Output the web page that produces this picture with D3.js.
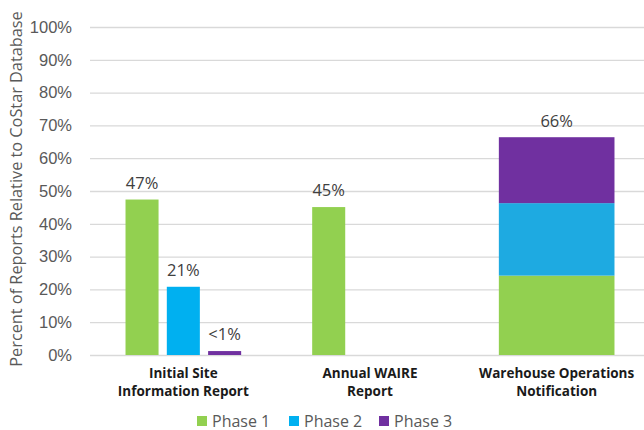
<!DOCTYPE html>
<html>
<head>
<meta charset="utf-8">
<script src="https://cdn.jsdelivr.net/npm/d3@7"></script>
<style>
  body { margin: 0; background: #fff; }
  svg { font-family: "Open Sans", sans-serif; }
  .tick text { fill: #595959; font-size: 16.5px; }
  .grid line { stroke: #d9d9d9; stroke-width: 1.3; }
  .cat { font-weight: bold; font-size: 13.5px; fill: #1a1a1a; }
  .val { font-size: 16.5px; fill: #404040; }
  .legend text { font-size: 16px; fill: #595959; }
</style>
</head>
<body>
<svg class="chart"></svg>
<script>
// data
var categories = [["Initial Site", "Information Report"], ["Annual WAIRE", "Report"], ["Warehouse Operations", "Notification"]];
var stacked = [false, false, true];
var phases = ["Phase 1", "Phase 2", "Phase 3"];
var phase1 = [47.4, 45.1, 24.2];
var phase2 = [20.8, 0, 22.1];
var phase3 = [1.2, 0, 20.1];
var barLabels = [["47%", "21%", "<1%"], ["45%", "", ""], ["66%"]];
var colors = ["#92d050", "#00b0f0", "#7030a0"];
var stackColors = ["#92d050", "#1eaae1", "#7030a0"];
var yTicks = [0, 10, 20, 30, 40, 50, 60, 70, 80, 90, 100];

var width = 644, height = 430;
var margin = {top: 27, right: -6, bottom: 75, left: 90};
var graph_width = width - margin.left - margin.right,
    graph_height = height - margin.top - margin.bottom;

var svg = d3.select(".chart")
    .attr("width", width)
    .attr("height", height);

var chart = svg.append("g")
    .attr("transform", "translate(" + margin.left + "," + margin.top + ")");

var x = d3.scaleBand()
    .domain(d3.range(categories.length))
    .range([0, graph_width]);

var x1 = d3.scaleBand()
    .domain(d3.range(phases.length))
    .range([0, x.bandwidth()])
    .paddingInner(0.2)
    .paddingOuter(0.86);

var y = d3.scaleLinear()
    .domain([0, 100])
    .range([graph_height, 0]);

// gridlines + tick labels
var yAxis = d3.axisLeft(y)
    .tickValues(yTicks)
    .tickSize(-graph_width - 10)
    .tickPadding(8)
    .tickFormat(function(d) { return d + "%"; });

chart.append("g")
    .attr("class", "grid")
    .call(yAxis)
    .call(function(g) { g.select(".domain").remove(); })
    .selectAll(".tick line").attr("x1", 0);

chart.selectAll(".grid .tick text").attr("x", -18);

var values = [phase1, phase2, phase3];

categories.forEach(function(cat, i) {
  var g = chart.append("g")
      .attr("transform", "translate(" + x(i) + ",0)");
  if (!stacked[i]) {
    phases.forEach(function(p, j) {
      var v = values[j][i];
      if (v <= 0) return;
      g.append("rect")
          .attr("x", x1(j))
          .attr("y", y(v))
          .attr("width", x1.bandwidth())
          .attr("height", graph_height - y(v))
          .attr("fill", colors[j]);
      g.append("text")
          .attr("class", "val")
          .attr("x", x1(j) + x1.bandwidth() / 2)
          .attr("y", y(v) - 11)
          .attr("text-anchor", "middle")
          .text(barLabels[i][j]);
    });
  } else {
    var x0 = x1(0), w = x1(2) + x1.bandwidth() - x1(0);
    var base = 0;
    phases.forEach(function(p, j) {
      var v = values[j][i];
      g.append("rect")
          .attr("x", x0)
          .attr("y", y(base + v))
          .attr("width", w)
          .attr("height", y(base) - y(base + v))
          .attr("fill", stackColors[j]);
      base += v;
    });
    g.append("text")
        .attr("class", "val")
        .attr("x", x0 + w / 2)
        .attr("y", y(base) - 10)
        .attr("text-anchor", "middle")
        .text(barLabels[i][0]);
  }
  var t = g.append("text")
      .attr("class", "cat")
      .attr("text-anchor", "middle")
      .attr("x", x.bandwidth() / 2)
      .attr("y", graph_height + 23);
  cat.forEach(function(line, k) {
    t.append("tspan")
        .attr("x", x.bandwidth() / 2)
        .attr("dy", k == 0 ? 0 : 18)
        .text(line);
  });
});

// y axis title
svg.append("text")
    .attr("transform", "translate(22," + (margin.top + graph_height / 2 - 2) + ") rotate(-90)")
    .attr("text-anchor", "middle")
    .attr("font-size", "16.3px")
    .attr("fill", "#595959")
    .text("Percent of Reports Relative to CoStar Database");

// legend
var legendX = [197, 289, 379];
var legend = svg.append("g").attr("class", "legend")
    .selectAll("g")
    .data(phases)
  .enter().append("g")
    .attr("transform", function(d, i) { return "translate(" + legendX[i] + ",416)"; });

legend.append("rect")
    .attr("width", 10)
    .attr("height", 10)
    .attr("fill", function(d, i) { return colors[i]; });

legend.append("text")
    .attr("x", 15)
    .attr("y", 10.5)
    .text(function(d) { return d; });
</script>
</body>
</html>
